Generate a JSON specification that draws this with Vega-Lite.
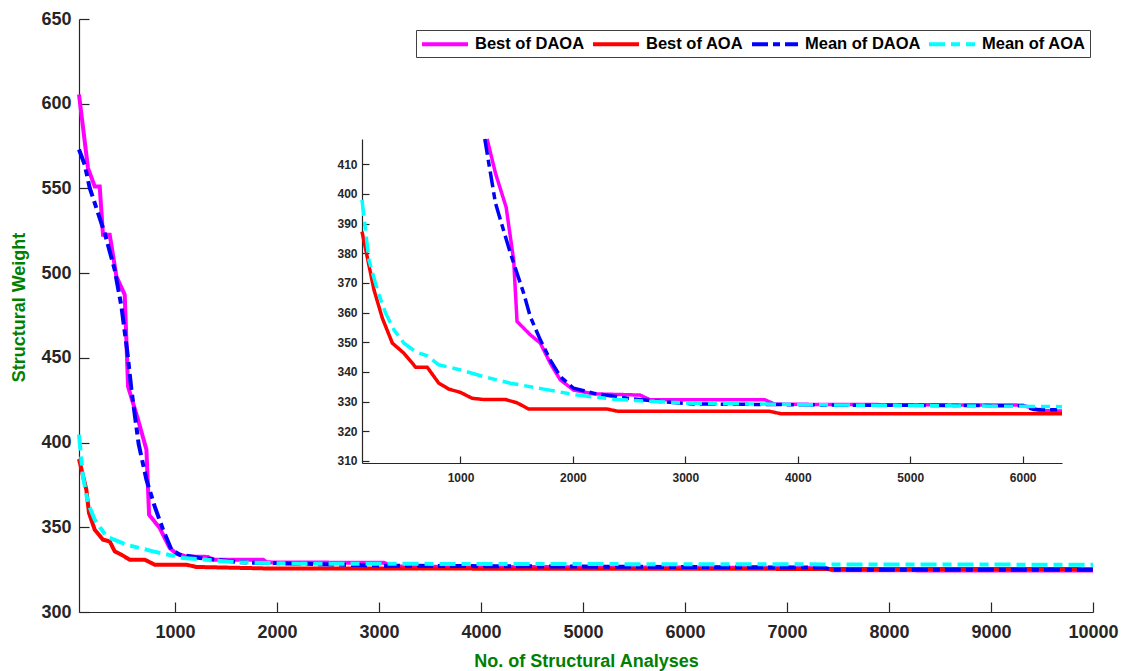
{
  "$schema": "https://vega.github.io/schema/vega-lite/v6.json",
  "width": 1014,
  "height": 593,
  "autosize": {"type": "none"},
  "padding": {"left": 79, "top": 19, "right": 31, "bottom": 59},
  "background": "white",
  "config": {
    "view": {"stroke": null},
    "font": "Liberation Sans",
    "axis": {"grid": false, "domainColor": "#262626", "tickColor": "#262626", "labelColor": "#262626", "labelFont": "Liberation Sans", "labelFontWeight": "bold", "titleFont": "Liberation Sans", "titleFontWeight": "bold", "titleColor": "#008000", "domainWidth": 1.2, "tickWidth": 1.2, "format": "d"},
    "legend": {"orient": "none", "legendX": 337, "legendY": 11, "direction": "horizontal", "labelFont": "Liberation Sans", "labelFontWeight": "bold", "labelFontSize": 16.5, "labelColor": "#000000", "symbolSize": 256, "symbolStrokeWidth": 4, "symbolType": "M-1,0H4.75", "labelOffset": 35, "columnPadding": 0, "padding": 4, "strokeColor": "#404040", "fillColor": "white", "labelLimit": 300}
  },
  "datasets": {
    "main": [
      {"series": "Best of DAOA", "x": 60, "y": 605.4},
      {"series": "Best of DAOA", "x": 148, "y": 562},
      {"series": "Best of DAOA", "x": 214, "y": 551.2},
      {"series": "Best of DAOA", "x": 263, "y": 551.2},
      {"series": "Best of DAOA", "x": 295, "y": 522.7},
      {"series": "Best of DAOA", "x": 361, "y": 522.7},
      {"series": "Best of DAOA", "x": 427, "y": 498},
      {"series": "Best of DAOA", "x": 508, "y": 487.3},
      {"series": "Best of DAOA", "x": 541, "y": 433},
      {"series": "Best of DAOA", "x": 639, "y": 413.5},
      {"series": "Best of DAOA", "x": 721, "y": 395.8},
      {"series": "Best of DAOA", "x": 747, "y": 357.4},
      {"series": "Best of DAOA", "x": 851, "y": 349.6},
      {"series": "Best of DAOA", "x": 949, "y": 337.8},
      {"series": "Best of DAOA", "x": 1015, "y": 334.4},
      {"series": "Best of DAOA", "x": 1113, "y": 332.8},
      {"series": "Best of DAOA", "x": 1325, "y": 332.5},
      {"series": "Best of DAOA", "x": 1374, "y": 330.9},
      {"series": "Best of DAOA", "x": 1865, "y": 330.9},
      {"series": "Best of DAOA", "x": 1900, "y": 329.3},
      {"series": "Best of DAOA", "x": 3050, "y": 329.0},
      {"series": "Best of DAOA", "x": 3150, "y": 326.8},
      {"series": "Best of DAOA", "x": 7350, "y": 326.0},
      {"series": "Best of DAOA", "x": 7450, "y": 324.6},
      {"series": "Best of DAOA", "x": 10000, "y": 324.5},
      {"series": "Best of AOA", "x": 60, "y": 390.3},
      {"series": "Best of AOA", "x": 132, "y": 372.2},
      {"series": "Best of AOA", "x": 158, "y": 358.4},
      {"series": "Best of AOA", "x": 214, "y": 348.6},
      {"series": "Best of AOA", "x": 295, "y": 342.7},
      {"series": "Best of AOA", "x": 361, "y": 341.7},
      {"series": "Best of AOA", "x": 410, "y": 335.8},
      {"series": "Best of AOA", "x": 476, "y": 333.8},
      {"series": "Best of AOA", "x": 557, "y": 330.9},
      {"series": "Best of AOA", "x": 704, "y": 330.9},
      {"series": "Best of AOA", "x": 802, "y": 327.9},
      {"series": "Best of AOA", "x": 1113, "y": 327.9},
      {"series": "Best of AOA", "x": 1211, "y": 326.6},
      {"series": "Best of AOA", "x": 1900, "y": 325.7},
      {"series": "Best of AOA", "x": 10000, "y": 325.3},
      {"series": "Mean of DAOA", "x": 60, "y": 573},
      {"series": "Mean of DAOA", "x": 116, "y": 564},
      {"series": "Mean of DAOA", "x": 165, "y": 550.3},
      {"series": "Mean of DAOA", "x": 312, "y": 523.6},
      {"series": "Mean of DAOA", "x": 410, "y": 502},
      {"series": "Mean of DAOA", "x": 476, "y": 480.3},
      {"series": "Mean of DAOA", "x": 535, "y": 452.9},
      {"series": "Mean of DAOA", "x": 574, "y": 431.2},
      {"series": "Mean of DAOA", "x": 645, "y": 399},
      {"series": "Mean of DAOA", "x": 721, "y": 378.1},
      {"series": "Mean of DAOA", "x": 802, "y": 362.3},
      {"series": "Mean of DAOA", "x": 884, "y": 348.6},
      {"series": "Mean of DAOA", "x": 966, "y": 336.8},
      {"series": "Mean of DAOA", "x": 1048, "y": 333.8},
      {"series": "Mean of DAOA", "x": 1244, "y": 331.9},
      {"series": "Mean of DAOA", "x": 1636, "y": 329.3},
      {"series": "Mean of DAOA", "x": 2224, "y": 328.5},
      {"series": "Mean of DAOA", "x": 3100, "y": 327.3},
      {"series": "Mean of DAOA", "x": 7350, "y": 326.2},
      {"series": "Mean of DAOA", "x": 7450, "y": 325.0},
      {"series": "Mean of DAOA", "x": 10000, "y": 325.0},
      {"series": "Mean of AOA", "x": 60, "y": 404.7},
      {"series": "Mean of AOA", "x": 99, "y": 380},
      {"series": "Mean of AOA", "x": 148, "y": 364.3},
      {"series": "Mean of AOA", "x": 214, "y": 354.5},
      {"series": "Mean of AOA", "x": 328, "y": 344.6},
      {"series": "Mean of AOA", "x": 525, "y": 339.7},
      {"series": "Mean of AOA", "x": 786, "y": 335.8},
      {"series": "Mean of AOA", "x": 1080, "y": 331.9},
      {"series": "Mean of AOA", "x": 1636, "y": 329.3},
      {"series": "Mean of AOA", "x": 2224, "y": 328.5},
      {"series": "Mean of AOA", "x": 10000, "y": 327.9}
    ],
    "inset": [
      {"series": "Best of DAOA", "x": 1237, "y": 418.5},
      {"series": "Best of DAOA", "x": 1311, "y": 407},
      {"series": "Best of DAOA", "x": 1406, "y": 395.5},
      {"series": "Best of DAOA", "x": 1473, "y": 377.7},
      {"series": "Best of DAOA", "x": 1503, "y": 357},
      {"series": "Best of DAOA", "x": 1621, "y": 352.5},
      {"series": "Best of DAOA", "x": 1710, "y": 349.7},
      {"series": "Best of DAOA", "x": 1799, "y": 342.9},
      {"series": "Best of DAOA", "x": 1888, "y": 337.3},
      {"series": "Best of DAOA", "x": 2006, "y": 333.9},
      {"series": "Best of DAOA", "x": 2183, "y": 332.6},
      {"series": "Best of DAOA", "x": 2597, "y": 332.2},
      {"series": "Best of DAOA", "x": 2686, "y": 330.6},
      {"series": "Best of DAOA", "x": 3707, "y": 330.6},
      {"series": "Best of DAOA", "x": 3796, "y": 329.1},
      {"series": "Best of DAOA", "x": 6000, "y": 328.8},
      {"series": "Best of DAOA", "x": 6150, "y": 327.0},
      {"series": "Best of DAOA", "x": 6350, "y": 326.8},
      {"series": "Best of AOA", "x": 124, "y": 387.3},
      {"series": "Best of AOA", "x": 231, "y": 367.6},
      {"series": "Best of AOA", "x": 305, "y": 358.1},
      {"series": "Best of AOA", "x": 394, "y": 349.7},
      {"series": "Best of AOA", "x": 497, "y": 346.3},
      {"series": "Best of AOA", "x": 601, "y": 341.6},
      {"series": "Best of AOA", "x": 704, "y": 341.6},
      {"series": "Best of AOA", "x": 807, "y": 336.2},
      {"series": "Best of AOA", "x": 896, "y": 334.2},
      {"series": "Best of AOA", "x": 1000, "y": 333.1},
      {"series": "Best of AOA", "x": 1104, "y": 331.1},
      {"series": "Best of AOA", "x": 1207, "y": 330.7},
      {"series": "Best of AOA", "x": 1399, "y": 330.7},
      {"series": "Best of AOA", "x": 1503, "y": 329.6},
      {"series": "Best of AOA", "x": 1606, "y": 327.5},
      {"series": "Best of AOA", "x": 2302, "y": 327.5},
      {"series": "Best of AOA", "x": 2405, "y": 326.7},
      {"series": "Best of AOA", "x": 3751, "y": 326.7},
      {"series": "Best of AOA", "x": 3850, "y": 325.9},
      {"series": "Best of AOA", "x": 6350, "y": 325.9},
      {"series": "Mean of DAOA", "x": 1216, "y": 418.5},
      {"series": "Mean of DAOA", "x": 1311, "y": 396.9},
      {"series": "Mean of DAOA", "x": 1444, "y": 380},
      {"series": "Mean of DAOA", "x": 1562, "y": 366.5},
      {"series": "Mean of DAOA", "x": 1621, "y": 358.6},
      {"series": "Mean of DAOA", "x": 1710, "y": 350.8},
      {"series": "Mean of DAOA", "x": 1799, "y": 344},
      {"series": "Mean of DAOA", "x": 1888, "y": 338.4},
      {"series": "Mean of DAOA", "x": 2006, "y": 334.5},
      {"series": "Mean of DAOA", "x": 2183, "y": 332.8},
      {"series": "Mean of DAOA", "x": 2479, "y": 331.1},
      {"series": "Mean of DAOA", "x": 2775, "y": 330},
      {"series": "Mean of DAOA", "x": 3071, "y": 329.2},
      {"series": "Mean of DAOA", "x": 4500, "y": 328.8},
      {"series": "Mean of DAOA", "x": 6000, "y": 328.6},
      {"series": "Mean of DAOA", "x": 6100, "y": 327.3},
      {"series": "Mean of DAOA", "x": 6350, "y": 327.2},
      {"series": "Mean of AOA", "x": 124, "y": 398},
      {"series": "Mean of AOA", "x": 186, "y": 377.7},
      {"series": "Mean of AOA", "x": 261, "y": 367.6},
      {"series": "Mean of AOA", "x": 334, "y": 359.8},
      {"series": "Mean of AOA", "x": 408, "y": 354.2},
      {"series": "Mean of AOA", "x": 497, "y": 349.7},
      {"series": "Mean of AOA", "x": 601, "y": 346.8},
      {"series": "Mean of AOA", "x": 704, "y": 345.4},
      {"series": "Mean of AOA", "x": 807, "y": 342.4},
      {"series": "Mean of AOA", "x": 1000, "y": 340.7},
      {"series": "Mean of AOA", "x": 1207, "y": 338.4},
      {"series": "Mean of AOA", "x": 1444, "y": 336.2},
      {"series": "Mean of AOA", "x": 1740, "y": 334.2},
      {"series": "Mean of AOA", "x": 2036, "y": 332.2},
      {"series": "Mean of AOA", "x": 2361, "y": 330.8},
      {"series": "Mean of AOA", "x": 2716, "y": 330},
      {"series": "Mean of AOA", "x": 3071, "y": 329.4},
      {"series": "Mean of AOA", "x": 4500, "y": 328.8},
      {"series": "Mean of AOA", "x": 6350, "y": 328.3}
    ]
  },
  "layer": [
    {
      "data": {"name": "main"},
      "mark": {"type": "line", "strokeWidth": 4},
      "encoding": {
        "x": {"field": "x", "type": "quantitative", "scale": {"domain": [60, 10000], "nice": false, "zero": false},
          "axis": {"orient": "bottom", "values": [1000, 2000, 3000, 4000, 5000, 6000, 7000, 8000, 9000, 10000], "tickSize": -10, "labelPadding": 21, "labelFontSize": 18, "title": "No. of Structural Analyses", "titleFontSize": 18, "titlePadding": 11, "labelFlush": false, "labelOverlap": false}},
        "y": {"field": "y", "type": "quantitative", "scale": {"domain": [300, 650], "nice": false, "zero": false},
          "axis": {"orient": "left", "values": [300, 350, 400, 450, 500, 550, 600, 650], "tickSize": -10, "labelPadding": 18, "labelFontSize": 18, "title": "Structural Weight", "titleFontSize": 18, "titlePadding": 12, "titleY": 288, "labelFlush": false, "labelOverlap": false}},
        "color": {"field": "series", "type": "nominal", "scale": {"domain": ["Best of DAOA", "Best of AOA", "Mean of DAOA", "Mean of AOA"], "range": ["#FF00FF", "#FF0000", "#0000FF", "#00FFFF"]}, "legend": {"title": null}},
        "strokeDash": {"field": "series", "type": "nominal", "scale": {"domain": ["Best of DAOA", "Best of AOA", "Mean of DAOA", "Mean of AOA"], "range": [[1, 0], [1, 0], [16, 5, 7, 5], [16, 6, 9, 6]]}, "legend": {"title": null}}
      }
    },
    {
      "data": {"name": "inset"},
      "mark": {"type": "line", "strokeWidth": 3.5},
      "encoding": {
        "x": {"field": "x", "type": "quantitative", "scale": {"domain": [124, 6350], "range": [283, 983], "nice": false, "zero": false},
          "axis": {"orient": "bottom", "offset": -149, "values": [1000, 2000, 3000, 4000, 5000, 6000], "tickSize": -7, "labelPadding": 16, "labelFontSize": 12, "title": null, "labelFlush": false, "labelOverlap": false}},
        "y": {"field": "y", "type": "quantitative", "scale": {"domain": [309.3, 418.5], "range": [444, 120], "nice": false, "zero": false},
          "axis": {"orient": "left", "offset": -283, "values": [310, 320, 330, 340, 350, 360, 370, 380, 390, 400, 410], "tickSize": -7, "labelPadding": 12, "labelFontSize": 12, "title": null, "labelFlush": false, "labelOverlap": false}},
        "color": {"field": "series", "type": "nominal", "legend": {"title": null}},
        "strokeDash": {"field": "series", "type": "nominal", "legend": {"title": null}}
      }
    }
  ],
  "resolve": {"scale": {"x": "independent", "y": "independent"}, "axis": {"x": "independent", "y": "independent"}}
}
